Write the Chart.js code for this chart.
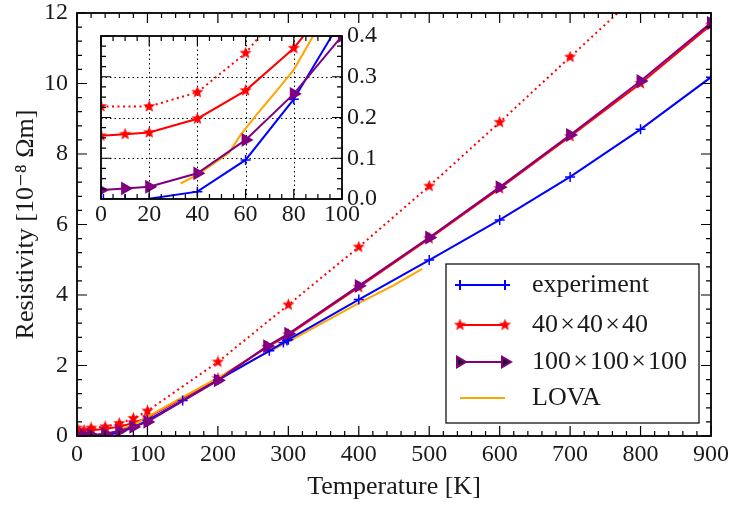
<!DOCTYPE html>
<html>
<head>
<meta charset="utf-8">
<script src="https://cdn.jsdelivr.net/npm/chart.js@4.4.0/dist/chart.umd.min.js"></script>
<style>
body{margin:0;background:#fff;}
#wrap{position:relative;width:731px;height:506px;}
#main{position:absolute;left:0;top:0;}
#inset{position:absolute;left:90px;top:16px;}
</style>
</head>
<body>
<div id="wrap">
<canvas id="main" width="731" height="506"></canvas>
<canvas id="inset" width="320" height="215"></canvas>
</div>
<script>
// experiment (handbook values)
var tempExp = [1, 10, 20, 40, 60, 80, 100, 150, 200, 273, 293, 298, 300, 400, 500, 600, 700, 800, 900];
var rhoExp = [0.0001, 0.0002, 0.0008, 0.018, 0.096, 0.245, 0.442, 1.006, 1.587, 2.417, 2.65, 2.709, 2.733, 3.87, 4.99, 6.13, 7.35, 8.70, 10.18];
// simulations
var tempSim = [0, 10, 20, 40, 60, 80, 100, 200, 270, 300, 400, 500, 600, 700, 800, 900];
var rho40 = [0.155, 0.159, 0.163, 0.197, 0.266, 0.37, 0.52, 1.63, 2.52, 2.87, 4.22, 5.6, 7.02, 8.5, 10.0, 11.66];
var rho100 = [0.022, 0.026, 0.030, 0.063, 0.145, 0.258, 0.40, 1.58, 2.55, 2.90, 4.26, 5.63, 7.06, 8.54, 10.07, 11.72];
// dotted 40x40x40 curve
var tempDot = [0, 20, 40, 60, 80, 100, 200, 300, 400, 500, 600, 700, 800];
var rhoDot = [0.227, 0.227, 0.262, 0.358, 0.50, 0.71, 2.10, 3.72, 5.36, 7.09, 8.90, 10.75, 12.6];
// LOVA
var tempLova = [33, 40, 45, 50, 53, 58, 65, 70, 80, 88, 100, 150, 200, 250, 300, 350, 400, 450, 490];
var rhoLova = [0.038, 0.059, 0.08, 0.10, 0.113, 0.158, 0.21, 0.245, 0.317, 0.40, 0.54, 1.10, 1.65, 2.16, 2.68, 3.22, 3.77, 4.28, 4.74];

var labels = ["experiment", "40\u200a\u00d7\u200a40\u200a\u00d7\u200a40", "100\u200a\u00d7\u200a100\u200a\u00d7\u200a100", "LOVA"];
var xTicksMain = [0, 900, 100, 20];
var yTicksMain = [0, 12, 2, 0.4];
var xTicksInset = [0, 100, 20, 5];
var yTicksInset = [0, 0.4, 0.1, 0.025];

var FONT = "'Liberation Serif', 'DejaVu Serif', serif";
var TXT = "#1a1a1a";

function pts(xs, ys){ return xs.map(function(x,i){ return {x:x, y:ys[i]}; }); }

// filled five-point star used as marker
function makeStar(size){
  var c = document.createElement("canvas");
  c.width = size; c.height = size;
  var g = c.getContext("2d");
  var r = size/2, ri = r*0.42;
  g.beginPath();
  for (var i=0;i<10;i++){
    var a = -Math.PI/2 + i*Math.PI/5;
    var rr = i%2==0 ? r : ri;
    g.lineTo(r + rr*Math.cos(a), r + rr*Math.sin(a));
  }
  g.closePath();
  g.fillStyle = "#ff0000";
  g.fill();
  return c;
}
var star = makeStar(13);

function datasets(){
  return [
    {label: labels[0], data: pts(tempExp, rhoExp), borderColor:"#0000ff", backgroundColor:"#0000ff",
     borderWidth:2, pointStyle:"cross", pointRadius:5, pointBorderWidth:1.5, order:1},
    {label: "", data: pts(tempDot, rhoDot), borderColor:"#ff0000", backgroundColor:"#ff0000",
     borderWidth:2, borderDash:[2,3.5], pointStyle:star, pointRadius:6, order:4},
    {label: labels[1], data: pts(tempSim, rho40), borderColor:"#ff0000", backgroundColor:"#ff0000",
     borderWidth:2, pointStyle:star, pointRadius:6, order:3},
    {label: labels[2], data: pts(tempSim, rho100), borderColor:"#800080", backgroundColor:"#800080",
     borderWidth:2, pointStyle:"triangle", pointRotation:90, pointRadius:6, order:0},
    {label: labels[3], data: pts(tempLova, rhoLova), borderColor:"#ffa500", backgroundColor:"#ffa500",
     borderWidth:2, pointRadius:0, order:2}
  ];
}

function drawTicks(ctx, scale, tk, area, horiz){
  var n = Math.round((tk[1]-tk[0])/tk[3]);
  var every = Math.round(tk[2]/tk[3]);
  for (var i=0;i<=n;i++){
    var v = tk[0] + i*tk[3];
    var p = scale.getPixelForValue(v);
    var len = (i % every == 0) ? 10 : 5;
    ctx.beginPath();
    if (horiz){
      ctx.moveTo(p, area.bottom); ctx.lineTo(p, area.bottom-len);
      ctx.moveTo(p, area.top); ctx.lineTo(p, area.top+len);
    } else {
      ctx.moveTo(area.left, p); ctx.lineTo(area.left+len, p);
      ctx.moveTo(area.right, p); ctx.lineTo(area.right-len, p);
    }
    ctx.stroke();
  }
}

var framePlugin = {
  id: "frame",
  beforeDraw: function(chart){
    var a = chart.chartArea, ctx = chart.ctx;
    ctx.save(); ctx.fillStyle = "#fff";
    ctx.fillRect(a.left, a.top, a.right-a.left, a.bottom-a.top);
    ctx.restore();
  },
  beforeDatasetsDraw: function(chart, args, opts){
    if (!opts.grid) return;
    var a = chart.chartArea, ctx = chart.ctx;
    var xs = chart.scales.x, ys = chart.scales.y;
    ctx.save();
    ctx.strokeStyle = "#000"; ctx.lineWidth = 1; ctx.setLineDash([1.5,3]);
    for (var v = opts.xt[0]+opts.xt[2]; v < opts.xt[1]-1e-9; v += opts.xt[2]){
      var p = Math.round(xs.getPixelForValue(v))+0.5;
      ctx.beginPath(); ctx.moveTo(p, a.top); ctx.lineTo(p, a.bottom); ctx.stroke();
    }
    for (var k = 1; k < Math.round((opts.yt[1]-opts.yt[0])/opts.yt[2]); k++){
      var q = Math.round(ys.getPixelForValue(opts.yt[0]+k*opts.yt[2]))+0.5;
      ctx.beginPath(); ctx.moveTo(a.left, q); ctx.lineTo(a.right, q); ctx.stroke();
    }
    ctx.restore();
  },
  afterDatasetsDraw: function(chart, args, opts){
    var a = chart.chartArea, ctx = chart.ctx;
    ctx.save();
    ctx.strokeStyle = "#000"; ctx.lineWidth = 1.2;
    drawTicks(ctx, chart.scales.x, opts.xt, a, true);
    drawTicks(ctx, chart.scales.y, opts.yt, a, false);
    ctx.lineWidth = 1.8;
    ctx.strokeRect(a.left, a.top, a.right-a.left, a.bottom-a.top);
    ctx.restore();
  }
};

var legendPlugin = {
  id: "boxlegend",
  afterDraw: function(chart){
    var ctx = chart.ctx;
    var sets = [chart.data.datasets[0], chart.data.datasets[2], chart.data.datasets[3], chart.data.datasets[4]];
    var rowY = [285, 325, 362, 398];
    ctx.save();
    ctx.fillStyle = "#fff"; ctx.fillRect(446, 264, 253, 159);
    ctx.strokeStyle = "#000"; ctx.lineWidth = 1.2; ctx.strokeRect(446, 264, 253, 159);
    sets.forEach(function(ds, i){
      var y = rowY[i];
      ctx.strokeStyle = ds.borderColor; ctx.lineWidth = 2;
      ctx.beginPath(); ctx.moveTo(460, y); ctx.lineTo(505, y); ctx.stroke();
      if (ds.pointRadius > 0){
        [460, 505].forEach(function(x){
          if (ds.pointStyle === star) ctx.drawImage(star, x-6.5, y-6.5);
          else Chart.helpers.drawPoint(ctx, {pointStyle: ds.pointStyle, rotation: ds.pointRotation||0,
            radius: ds.pointRadius, borderWidth: ds.pointBorderWidth||1}, x, y);
        });
      }
      ctx.fillStyle = TXT; ctx.font = "26px " + FONT; ctx.textBaseline = "middle"; ctx.textAlign = "left";
      ctx.fillText(ds.label, 532, y);
    });
    ctx.restore();
  }
};

function noPadX(s){ s.paddingLeft = 0; s.paddingRight = 0; }
function noPadY(s){ s.paddingTop = 0; s.paddingBottom = 0; }

Chart.defaults.font.family = FONT;
Chart.defaults.color = TXT;

// main chart
new Chart(document.getElementById("main").getContext("2d"), {
  type: "line",
  data: { datasets: datasets() },
  options: {
    responsive: false, animation: false,
    layout: { padding: { top: 13, right: 20, left: 0, bottom: 0 } },
    plugins: { legend: {display:false}, tooltip: {enabled:false},
      frame: { xt: xTicksMain, yt: yTicksMain, grid: false } },
    scales: {
      x: { type: "linear", min: xTicksMain[0], max: xTicksMain[1],
        grid: { display:false, drawTicks:false }, border: {display:false},
        ticks: { stepSize: xTicksMain[2], padding: 7, font: {size:24, lineHeight:1}, maxRotation:0 },
        title: { display:true, text:"Temperature [K]", font:{size:26, lineHeight:1}, padding:{top:0,bottom:6} },
        afterFit: function(s){ s.height = 70; noPadX(s); } },
      y: { min: yTicksMain[0], max: yTicksMain[1],
        grid: { display:false, drawTicks:false }, border: {display:false},
        ticks: { stepSize: yTicksMain[2], padding: 9, font: {size:24, lineHeight:1} },
        title: { display:true, text:"Resistivity [10\u207b\u2078 \u03a9m]", font:{size:26, lineHeight:1}, padding:{top:13,bottom:0} },
        afterFit: function(s){ s.width = 77; noPadY(s); } }
    }
  },
  plugins: [framePlugin, legendPlugin]
});

// inset chart
new Chart(document.getElementById("inset").getContext("2d"), {
  type: "line",
  data: { datasets: datasets() },
  options: {
    responsive: false, animation: false,
    layout: { padding: { top: 20, right: 0, left: 11, bottom: 0 } },
    plugins: { legend: {display:false}, tooltip: {enabled:false},
      frame: { xt: xTicksInset, yt: yTicksInset, grid: true } },
    scales: {
      x: { type: "linear", min: xTicksInset[0], max: xTicksInset[1],
        grid: { display:false, drawTicks:false }, border: {display:false},
        ticks: { stepSize: xTicksInset[2], padding: 4, font: {size:24, lineHeight:1}, maxRotation:0 },
        afterFit: function(s){ s.height = 32; noPadX(s); } },
      y: { position: "right", min: yTicksInset[0], max: yTicksInset[1],
        grid: { display:false, drawTicks:false }, border: {display:false},
        ticks: { stepSize: yTicksInset[2], padding: 5, font: {size:24, lineHeight:1},
          callback: function(v){ return v.toFixed(1); } },
        afterFit: function(s){ s.width = 68; noPadY(s); } }
    }
  },
  plugins: [framePlugin]
});
</script>
</body>
</html>
